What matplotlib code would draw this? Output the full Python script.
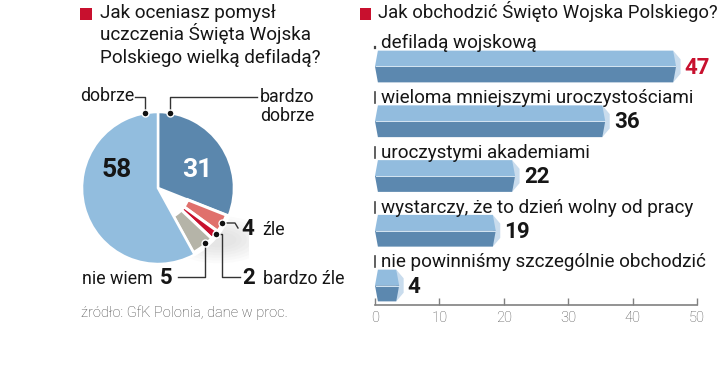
import matplotlib
matplotlib.use('Agg')
import matplotlib.pyplot as plt
from matplotlib.patches import Wedge, Polygon, Ellipse, Rectangle

plt.rcParams['font.family'] = ['Roboto', 'DejaVu Sans']

# dane - lewy wykres (ocena defilady)
pie_labels = ['bardzo dobrze', 'źle', 'bardzo źle', 'nie wiem', 'dobrze']
pie_values = [31, 4, 2, 5, 58]
pie_colors = ['#5b87ad', '#e0706c', '#c8102e', '#b5b4a8', '#92bdde']

# dane - prawy wykres (jak obchodzić)
bar_labels = ['defiladą wojskową', 'wieloma mniejszymi uroczystościami',
              'uroczystymi akademiami', 'wystarczy, że to dzień wolny od pracy',
              'nie powinniśmy szczególnie obchodzić']
bar_values = [47, 36, 22, 19, 4]
xticks = [0, 10, 20, 30, 40, 50]

W, H = 720, 367
TXT = '#161616'
RED = '#c8102e'

fig = plt.figure(figsize=(W / 100, H / 100), dpi=100)

# ---- pie ----
cx, cy, R = 158, 188, 76
ext = 1.2
axp = fig.add_axes([(cx - R * ext) / W, (H - cy - R * ext) / H,
                    2 * R * ext / W, 2 * R * ext / H])
axp.set_xlim(-ext, ext)
axp.set_ylim(-ext, ext)
axp.set_aspect('equal')
axp.axis('off')

cum = 0
small_start = small_end = None
for lab, v, c in zip(pie_labels, pie_values, pie_colors):
    t2 = 90 - cum * 3.6
    t1 = 90 - (cum + v) * 3.6
    cum += v
    if v >= 10:
        axp.add_patch(Wedge((0, 0), 1.0, t1, t2, facecolor=c,
                            edgecolor='white', lw=1.8, zorder=3))
    else:
        small_start = t2 if small_start is None else small_start
        small_end = t1
        axp.add_patch(Wedge((0, 0), 0.97, t1, t2, width=0.55,
                            facecolor=c, edgecolor='white', lw=2.2, zorder=3))

# cien pod malymi wycinkami
for k in range(7):
    axp.add_patch(Ellipse((0.8, -0.68), 1.3 - k * 0.14, 0.62 - k * 0.07,
                          color='#999999', alpha=0.035, lw=0, zorder=0))
axp.add_patch(Wedge((0, 0), 1.0, small_end, small_start, facecolor='white',
                    edgecolor='white', lw=2, zorder=1))

axp.text(-0.54, 0.24, '58', fontsize=19, fontweight='bold', color=TXT,
         ha='center', va='center', zorder=5)
axp.text(0.51, 0.24, '31', fontsize=19, fontweight='bold', color='white',
         ha='center', va='center', zorder=5)

# ---- bars ----
x_left, x_right = 375, 697
y_axis = 305
c0, step = 66.5, 54.75
y_top_px = 28
yb = (y_axis - c0) / step
yt = (y_top_px - c0) / step
axb = fig.add_axes([x_left / W, 1 - y_axis / H, (x_right - x_left) / W,
                    (y_axis - y_top_px) / H])
axb.set_xlim(0, 50)
axb.set_ylim(yb, yt)
for s in ['top', 'right', 'left']:
    axb.spines[s].set_visible(False)
axb.spines['bottom'].set_color('#808080')
axb.spines['bottom'].set_linewidth(1.2)
axb.set_yticks([])
axb.set_xticks(xticks)
axb.tick_params(axis='x', direction='in', length=5, width=1, colors='#808080',
                labelsize=10.5, labelcolor='#555555', pad=4)
for t in axb.get_xticklabels():
    t.set_fontweight('light')
axb.patch.set_alpha(0)

hh = 0.29
d = 0.45
for i, (lab, v) in enumerate(zip(bar_labels, bar_values)):
    e = v - 0.7
    axb.add_patch(Polygon([(e, i - hh), (v + 0.45, i - hh * 0.45),
                           (v + 0.45, i + hh * 0.45), (e, i + hh)],
                          closed=True, facecolor='#c9dced', lw=0, zorder=2))
    axb.add_patch(Polygon([(d, i - hh), (e, i - hh), (e + d, i), (0, i)],
                          closed=True, facecolor='#92bcde', lw=0, zorder=3))
    axb.add_patch(Polygon([(0, i), (e + d, i), (e, i + hh), (d, i + hh)],
                          closed=True, facecolor='#5c88af', lw=0, zorder=3))
    axb.plot([0.1, e + d - 0.1], [i, i], color='#d6e6f3', lw=0.7, zorder=4)
    axb.text(v + 1.1, i + 0.02, str(v), fontsize=16, fontweight='bold',
             color=RED if i == 0 else TXT, ha='left', va='center', clip_on=False)
    # etykieta nad słupkiem
    ly = i - 0.33
    axb.text(0.95, ly, lab, fontsize=13.6, color=TXT, ha='left', va='baseline',
             clip_on=False)
    if i == 0:
        axb.plot([0.05, 0.05], [ly, ly - 0.03], color='#444444', lw=1.6,
                 clip_on=False)
    else:
        axb.plot([0.05, 0.05], [ly, ly - 0.2], color='#444444', lw=1.2,
                 clip_on=False)

# ---- overlay: tytuły, opisy, linie ----
ax = fig.add_axes([0, 0, 1, 1])
ax.set_xlim(0, W)
ax.set_ylim(H, 0)
ax.axis('off')
ax.patch.set_alpha(0)

ax.add_patch(Rectangle((80, 8), 12, 12, facecolor=RED, lw=0))
ax.add_patch(Rectangle((360, 8), 11, 12, facecolor=RED, lw=0))
title_l = ['Jak oceniasz pomysł', 'uczczenia Święta Wojska',
           'Polskiego wielką defiladą?']
for k, line in enumerate(title_l):
    ax.text(100, 18 + k * 22.5, line, fontsize=13.6, color=TXT, va='baseline')
ax.text(378, 18, 'Jak obchodzić Święto Wojska Polskiego?', fontsize=13.3,
        color=TXT, va='baseline')

lc = '#333333'
lw = 1.0
fs = 12.8
# dobrze
ax.text(80, 101, 'dobrze', fontsize=fs, color=TXT, va='baseline')
ax.plot([135, 145, 145], [97, 97, 113], color=lc, lw=lw)
ax.plot(145, 113, 'o', ms=5, color='#111111', mec='white', mew=1)
# bardzo dobrze
ax.text(260, 102, 'bardzo', fontsize=fs, color=TXT, va='baseline')
ax.text(260, 121, 'dobrze', fontsize=fs, color=TXT, va='baseline')
ax.plot([257, 170, 170], [97, 97, 113], color=lc, lw=lw)
ax.plot(170, 113, 'o', ms=5, color='#111111', mec='white', mew=1)
# źle
ax.plot([222, 235, 238], [223, 223, 228], color=lc, lw=lw)
ax.plot(222, 223, 'o', ms=5, color='#111111', mec='white', mew=1)
ax.text(241, 235, '4', fontsize=16, fontweight='bold', color=TXT, va='baseline')
ax.text(262, 235, 'źle', fontsize=fs, color=TXT, va='baseline')
# bardzo źle
ax.plot([216, 222, 222, 240], [234, 234, 277, 277], color=lc, lw=lw)
ax.plot(216, 234, 'o', ms=5, color='#111111', mec='white', mew=1)
ax.text(242, 284, '2', fontsize=16, fontweight='bold', color=TXT, va='baseline')
ax.text(263, 284, 'bardzo źle', fontsize=fs, color=TXT, va='baseline')
# nie wiem
ax.plot([178, 205, 205], [277, 277, 243], color=lc, lw=lw)
ax.plot(205, 243, 'o', ms=5, color='#111111', mec='white', mew=1)
ax.text(82, 284, 'nie wiem', fontsize=fs, color=TXT, va='baseline')
ax.text(160, 284, '5', fontsize=16, fontweight='bold', color=TXT, va='baseline')

ax.text(81, 317, 'źródło: GfK Polonia, dane w proc.', fontsize=10.5,
        color='#444444', fontweight='light', va='baseline')

fig.savefig('out.png', dpi=100)
